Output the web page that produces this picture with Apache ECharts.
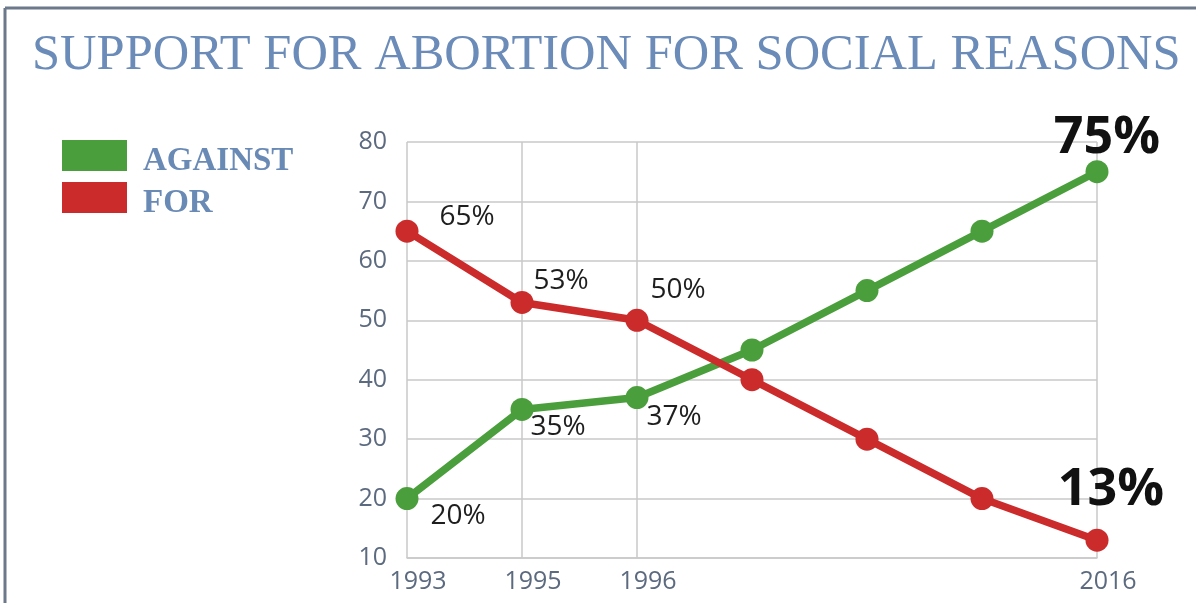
<!DOCTYPE html>
<html>
<head>
<meta charset="utf-8">
<script src="https://cdn.jsdelivr.net/npm/echarts@6/dist/echarts.min.js"></script>
<style>
  html, body { margin: 0; padding: 0; background: #ffffff; }
  #chart { width: 1196px; height: 603px; }
</style>
</head>
<body>
<div id="chart"></div>
<script>
// ---- data ----
const titleText = 'SUPPORT FOR ABORTION FOR SOCIAL REASONS';
const seriesNames = ['AGAINST', 'FOR'];
const years = ['1993', '1995', '1996', '', '', '', '2016'];
const againstValues = [20, 35, 37, 45, 55, 65, 75];
const forValues = [65, 53, 50, 40, 30, 20, 13];
const againstLabels = ['20%', '35%', '37%', '', '', '', '75%'];
const forLabels = ['65%', '53%', '50%', '', '', '', '13%'];
const yTicks = { min: 10, max: 80, step: 10 };

// ---- styles ----
const GREEN = '#4a9f3c';
const RED = '#cc2b2b';
const GRID = '#c9c9c9';
const AXIS_TXT = '#5c6a7f';
const TITLE_CLR = '#6b8bb8';
const LEGEND_TXT = '#6a8ab6';
const againstOffsets = [[51, 17], [36, 18], [37, 19], null, null, null, [10, -34]];
const forOffsets = [[60, -14], [39, -21], [41, -30], null, null, null, [14, -50]];
const bigIdx = 6;

function buildData(values, labels, offsets) {
  return values.map((v, i) => {
    const item = { value: v };
    if (labels[i]) {
      const big = i === bigIdx;
      item.label = {
        show: true,
        position: 'inside',
        offset: offsets[i],
        formatter: labels[i],
        color: big ? '#111111' : '#1e1e1e',
        fontFamily: 'Open Sans',
        fontWeight: big ? 'bold' : 'normal',
        fontSize: big ? 52 : 28,
        align: 'center',
        verticalAlign: 'middle'
      };
    }
    return item;
  });
}

// custom legend (rect swatch + bold serif label)
const legendColors = [GREEN, RED];
const legendGraphics = [];
seriesNames.forEach((name, i) => {
  const top = 140 + i * 42;
  legendGraphics.push({ type: 'rect', shape: { x: 62, y: top, width: 65, height: 31 }, style: { fill: legendColors[i] } });
  legendGraphics.push({
    type: 'text', x: 143, y: top + 21,
    style: { text: name, font: 'bold 33px "Liberation Serif"', fill: LEGEND_TXT, verticalAlign: 'middle', align: 'left' }
  });
});

const chart = echarts.init(document.getElementById('chart'), null, { renderer: 'canvas' });
chart.setOption({
  animation: false,
  backgroundColor: '#ffffff',
  graphic: [
    { type: 'line', shape: { x1: 5, y1: 8, x2: 1196, y2: 8 }, style: { stroke: '#6b798b', lineWidth: 3 } },
    { type: 'line', shape: { x1: 5, y1: 8, x2: 5, y2: 603 }, style: { stroke: '#6b798b', lineWidth: 3 } },
    {
      type: 'text', left: 32, top: 30,
      style: { text: titleText, font: '50.5px "Liberation Serif"', fill: TITLE_CLR }
    }
  ].concat(legendGraphics),
  grid: { left: 407, right: 99, top: 142, bottom: 45, containLabel: false },
  xAxis: {
    type: 'category',
    data: years,
    boundaryGap: false,
    axisLine: { show: true, lineStyle: { color: GRID, width: 1.5 } },
    axisTick: { show: false },
    axisLabel: { interval: 0, margin: 11, padding: [0, 0, 0, 22], color: AXIS_TXT, fontFamily: 'Open Sans', fontSize: 25 },
    splitLine: {
      show: true,
      interval: (idx, val) => val !== '',
      lineStyle: { color: GRID, width: 1.5 }
    }
  },
  yAxis: {
    type: 'value',
    min: yTicks.min,
    max: yTicks.max,
    interval: yTicks.step,
    axisLine: { show: false },
    axisTick: { show: false },
    axisLabel: { margin: 20, padding: [6, 0, 0, 0], color: AXIS_TXT, fontFamily: 'Open Sans', fontSize: 25 },
    splitLine: { show: true, lineStyle: { color: GRID, width: 1.5 } }
  },
  series: [
    {
      name: seriesNames[0],
      type: 'line',
      data: buildData(againstValues, againstLabels, againstOffsets),
      color: GREEN,
      lineStyle: { color: GREEN, width: 7.5 },
      itemStyle: { color: GREEN },
      symbol: 'circle',
      symbolSize: 23,
      z: 3
    },
    {
      name: seriesNames[1],
      type: 'line',
      data: buildData(forValues, forLabels, forOffsets),
      color: RED,
      lineStyle: { color: RED, width: 7.5 },
      itemStyle: { color: RED },
      symbol: 'circle',
      symbolSize: 23,
      z: 4
    }
  ]
});
</script>
</body>
</html>
